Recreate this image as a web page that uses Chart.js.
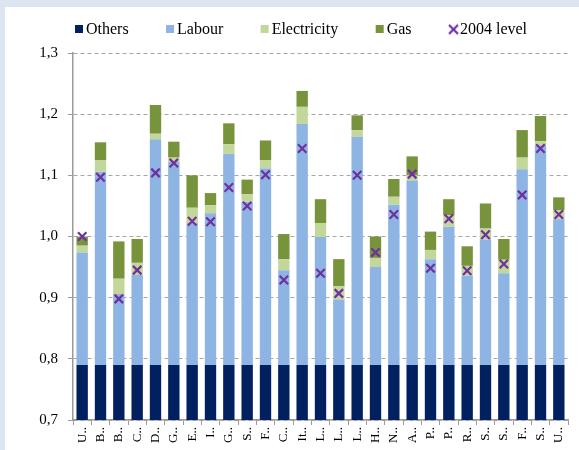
<!DOCTYPE html>
<html>
<head>
<meta charset="utf-8">
<script src="https://cdn.jsdelivr.net/npm/chart.js@4.4.0/dist/chart.umd.min.js"></script>
<style>
  html, body { margin: 0; padding: 0; background: #dce6f2; overflow: hidden; }
  #wrap { position: absolute; left: 5px; top: 7px; width: 574px; height: 443px; background: #fff; }
</style>
</head>
<body>
<div id="wrap"><canvas id="costChart" width="574" height="443"></canvas></div>
<script>
const countries = ["U..", "B..", "B..", "C..", "D..", "G..", "E..", "I..", "G..", "S..", "F..", "C..", "It..",
  "L..", "L..", "L..", "H..", "N..", "A..", "P..", "P..", "R..", "S..", "S..", "F..", "S..", "U.."];

const others = [0.79, 0.79, 0.79, 0.79, 0.79, 0.79, 0.79, 0.79, 0.79, 0.79, 0.79, 0.79, 0.79, 0.79,
  0.79, 0.79, 0.79, 0.79, 0.79, 0.79, 0.79, 0.79, 0.79, 0.79, 0.79, 0.79, 0.79];
const labour = [0.184, 0.316, 0.116, 0.147, 0.369, 0.332, 0.232, 0.248, 0.345, 0.267, 0.321, 0.155, 0.394,
  0.209, 0.107, 0.373, 0.160, 0.262, 0.301, 0.173, 0.226, 0.146, 0.205, 0.150, 0.320, 0.359, 0.238];
const electricity = [0.011, 0.019, 0.025, 0.020, 0.009, 0.007, 0.025, 0.013, 0.016, 0.012, 0.014, 0.018, 0.028,
  0.023, 0.022, 0.011, 0.015, 0.013, 0.009, 0.015, 0.019, 0.016, 0.018, 0.022, 0.019, 0.007, 0.015];
const gas = [0.015, 0.029, 0.061, 0.039, 0.047, 0.026, 0.053, 0.020, 0.034, 0.024, 0.032, 0.041, 0.026,
  0.039, 0.044, 0.024, 0.035, 0.029, 0.031, 0.030, 0.026, 0.032, 0.041, 0.034, 0.045, 0.041, 0.021];
const level2004 = [1.000, 1.097, 0.898, 0.945, 1.104, 1.120, 1.025, 1.024, 1.080, 1.050, 1.101, 0.929, 1.144,
  0.940, 0.907, 1.100, 0.974, 1.036, 1.102, 0.948, 1.029, 0.944, 1.003, 0.955, 1.068, 1.144, 1.036];

const yMin = 0.7;
const yMax = 1.3;
const yStep = 0.1;

const serif = "'Liberation Serif', 'Times New Roman', serif";
const axisGrey = "#9a9a9a";
const purple = "#7030a0";

// legend swatches drawn into small canvases, offset so they sit close to the text
function squareSwatch(color) {
  const c = document.createElement("canvas");
  c.width = 16; c.height = 8;
  const g = c.getContext("2d");
  g.fillStyle = color;
  g.fillRect(6, 0, 8, 8);
  return c;
}
function crossSwatch(color) {
  const c = document.createElement("canvas");
  c.width = 16; c.height = 12;
  const g = c.getContext("2d");
  g.strokeStyle = color;
  g.lineWidth = 2.2;
  g.beginPath();
  g.moveTo(6, 1.5); g.lineTo(15, 10.5);
  g.moveTo(15, 1.5); g.lineTo(6, 10.5);
  g.stroke();
  return c;
}

// nudge the legend to where the original sits (top only, so its clip box still holds the text)
const legendNudge = {
  id: "legendNudge",
  afterLayout(chart) {
    const lg = chart.legend;
    lg.left += 15; lg.right += 15;
    lg.top -= 24;
  }
};

function bar(label, data, color) {
  return { type: "bar", label, data, backgroundColor: color, stack: "cost",
    barPercentage: 0.62, categoryPercentage: 1.0 };
}

new Chart(document.getElementById("costChart"), {
  data: {
    labels: countries,
    datasets: [
      bar("Others", others, "#002060"),
      bar("Labour", labour, "#8db4e2"),
      bar("Electricity", electricity, "#c4d79b"),
      bar("Gas", gas, "#77933c"),
      {
        type: "line",
        label: "2004 level",
        data: level2004,
        stack: "level",
        order: -1,
        showLine: false,
        pointStyle: "crossRot",
        pointRadius: 6,
        pointHoverRadius: 6,
        pointBorderWidth: 2.2,
        borderColor: purple,
        backgroundColor: purple
      }
    ]
  },
  options: {
    responsive: false,
    animation: false,
    layout: { padding: { left: 0, right: 11, top: 0, bottom: 0 } },
    plugins: {
      tooltip: { enabled: false },
      legend: {
        position: "top",
        maxHeight: 46,
        labels: {
          usePointStyle: true,
          boxHeight: 8,
          pointStyleWidth: 2,
          padding: 38.4,
          color: "#000",
          font: { family: serif, size: 16 },
          sort: (a, b) => a.datasetIndex - b.datasetIndex,
          generateLabels(chart) {
            const items = Chart.defaults.plugins.legend.labels.generateLabels(chart);
            items.forEach(it => {
              const ds = chart.data.datasets[it.datasetIndex];
              it.pointStyle = it.datasetIndex === 4 ? crossSwatch(purple) : squareSwatch(ds.backgroundColor);
              it.lineWidth = 0;
            });
            return items;
          }
        }
      }
    },
    scales: {
      x: {
        stacked: true,
        grid: { display: true, drawOnChartArea: false, offset: true, tickLength: 5, color: axisGrey },
        border: { color: axisGrey, width: 1.5 },
        ticks: {
          autoSkip: false, minRotation: 90, maxRotation: 90, padding: 2,
          color: "#000", font: { family: serif, size: 13 }
        },
        afterFit(scale) { scale.height = 30; }
      },
      y: {
        stacked: true,
        min: yMin,
        max: yMax,
        grid: { color: "#a6a6a6", lineWidth: 1, tickLength: 5, tickColor: axisGrey, tickBorderDash: [] },
        border: { color: axisGrey, width: 1.5, dash: [4, 3] },
        ticks: {
          stepSize: yStep, padding: 10, color: "#000",
          font: { family: serif, size: 15 },
          callback: v => v.toFixed(1).replace(".", ",")
        },
        afterFit(scale) { scale.width = 68; }
      }
    }
  },
  plugins: [legendNudge]
});
</script>
</body>
</html>
